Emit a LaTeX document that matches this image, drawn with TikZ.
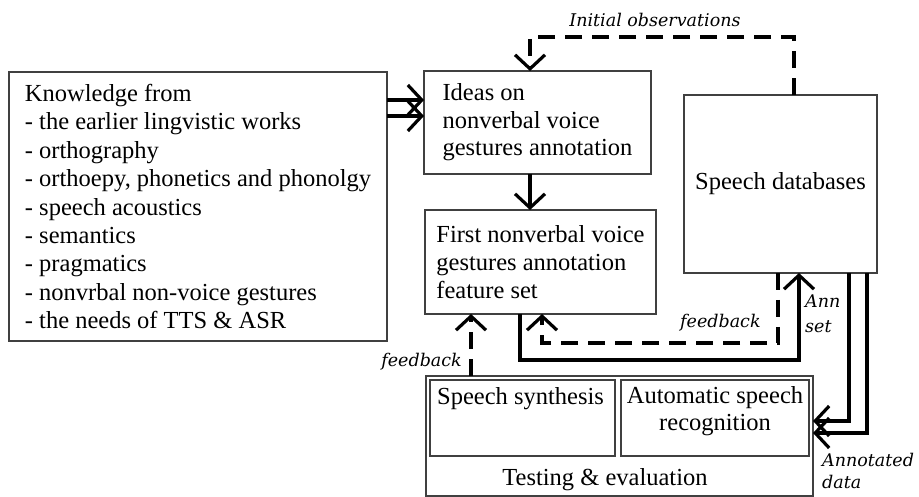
\documentclass[tikz,border=0pt]{standalone}
\usepackage{fontspec}
\setmainfont{Liberation Serif}
\newfontfamily\notefont{DejaVu Serif}
\usetikzlibrary{arrows.meta}
\begin{document}
\begin{tikzpicture}[x=1pt,y=-1pt,
  box/.style={draw=black!75, line width=1.1pt, outer sep=0pt, inner sep=0pt, anchor=north west},
  txt/.style={font=\fontsize{24.5}{28.4}\selectfont, align=left, inner sep=0pt},
  lbl/.style={font=\notefont\itshape\fontsize{17.5}{22}\selectfont, inner sep=0pt},
  conn/.style={line width=3.2pt, -{Straight Barb[length=14pt,width=30pt]}},
  dashline/.style={dash pattern=on 17pt off 10pt}
]
\useasboundingbox (0,0) rectangle (919,497);

% boxes
\node[box, txt, minimum width=378pt, minimum height=269pt] (know) at (9,72)
  {Knowledge from\\- the earlier lingvistic works\\- orthography\\- orthoepy, phonetics and phonolgy\\- speech acoustics\\- semantics\\- pragmatics\\- nonvrbal non-voice gestures\\- the needs of TTS \& ASR};
\node[box, txt, font=\fontsize{24.5}{27.6}\selectfont, minimum width=227pt, minimum height=103pt] (ideas) at (424,71)
  {Ideas on\\nonverbal voice\\gestures annotation};
\node[box, txt, font=\fontsize{24.5}{28}\selectfont, minimum width=231pt, minimum height=104pt] (first) at (425,210)
  {First nonverbal voice\\gestures annotation\\feature set};
\node[box, txt, minimum width=193pt, minimum height=178pt] (db) at (684,95) {Speech databases};
\node[box, minimum width=387pt, minimum height=120pt] (test) at (426,376) {};
\node[box, minimum width=185pt, minimum height=76pt] (synth) at (430,380) {};
\node[box, minimum width=188pt, minimum height=76pt] (asr) at (621,380) {};

% box texts (base anchor of a multi-line node sits on its last line)
\node[txt, anchor=base west] (synthtext) at (437,404) {Speech synthesis};
\node[txt, anchor=base, align=center, font=\fontsize{24.5}{27}\selectfont] (asrtext) at (715,430) {Automatic speech\\recognition};
\node[txt, anchor=base] (testtext) at (605,485) {Testing \& evaluation};

% helper coordinates for connector routing
\coordinate (yk1) at (0,100);
\coordinate (yk2) at (0,116);
\coordinate (xmid) at (530,37);
\coordinate (xobs) at (794,0);
\coordinate (xfbl) at (471,0);
\coordinate (xfbr) at (778,0);
\coordinate (yfbr) at (542,343);
\coordinate (xann) at (520,0);
\coordinate (yann) at (799,360);
\coordinate (xd1) at (849,0);
\coordinate (xd2) at (867,0);
\coordinate (yd1) at (0,421);
\coordinate (yd2) at (0,433);

% connectors
\draw[conn] (know.east |- yk1) -- (ideas.west |- yk1);
\draw[conn] (know.east |- yk2) -- (ideas.west |- yk2);
\draw[conn] (ideas.south -| xmid) -- (first.north -| xmid);
\draw[conn, dashline] (db.north -| xobs) |- (xmid) -- (ideas.north -| xmid);
\draw[conn, dashline] (test.north -| xfbl) -- (first.south -| xfbl);
\draw[conn, dashline] (db.south -| xfbr) |- (yfbr) -- (first.south -| yfbr);
\draw[conn] (first.south -| xann) |- (yann) -- (db.south -| yann);
\draw[conn] (db.south -| xd1) |- (test.east |- yd1);
\draw[conn] (db.south -| xd2) |- (test.east |- yd2);

% connector labels
\node[lbl, anchor=base] (obslbl) at (655,27) {Initial observations};
\node[lbl, anchor=base east] (fbleft) at (462,366) {feedback};
\node[lbl, anchor=base west] (fbright) at (680,327) {feedback};
\node[lbl, anchor=base west, align=left, font=\notefont\itshape\fontsize{17.5}{25}\selectfont] (annlbl) at (805,333) {Ann\\set};
\node[lbl, anchor=base west, align=left, font=\notefont\itshape\fontsize{17.5}{22}\selectfont] (datalbl) at (822,488) {Annotated\\data};
\end{tikzpicture}
\end{document}
